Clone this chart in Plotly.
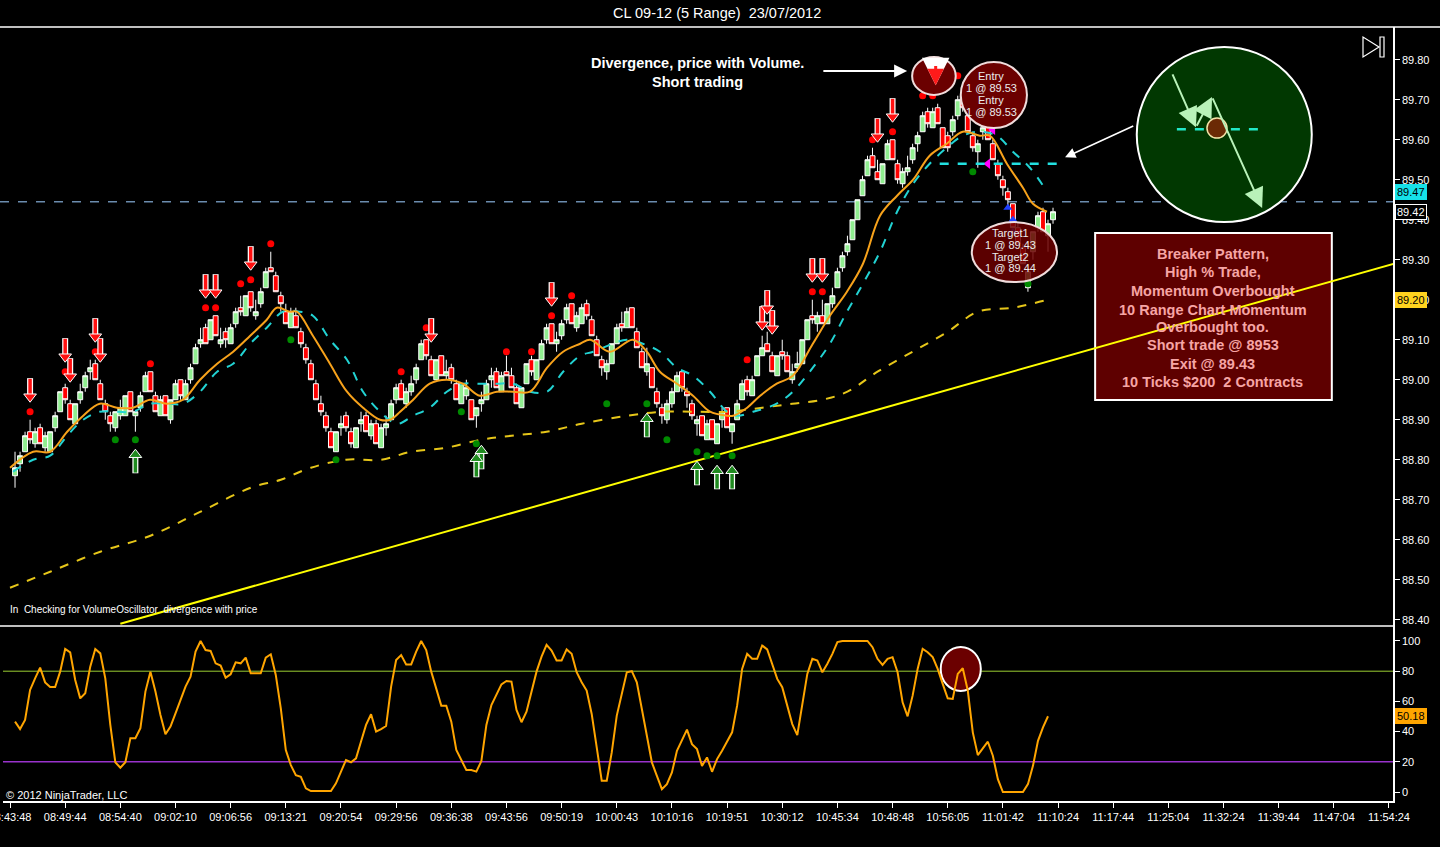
import plotly.graph_objects as go

# ---- time axis labels (one label every 11 range bars) ----
time_labels = ["08:43:48", "08:49:44", "08:54:40", "09:02:10", "09:06:56", "09:13:21",
               "09:20:54", "09:29:56", "09:36:38", "09:43:56", "09:50:19", "10:00:43",
               "10:10:16", "10:19:51", "10:30:12", "10:45:34", "10:48:48", "10:56:05",
               "11:01:42", "11:10:24", "11:17:44", "11:25:04", "11:32:24", "11:39:44",
               "11:47:04", "11:54:24"]
label_bars = [0, 11, 22, 33, 44, 55, 66, 77, 88, 99, 110, 121, 132, 143, 154, 165,
              176, 187, 198, 209, 220, 231, 242, 253, 264, 275]

# ---- CL 09-12, 5 range bars ----
bar_open = [
    88.76, 88.79, 88.82, 88.87, 88.84, 88.88, 88.83, 88.82, 88.88, 88.92,
    88.98, 88.94, 88.89, 88.95, 88.98, 89.02, 89.04, 88.99, 88.94, 88.91,
    88.88, 88.91, 88.91, 88.97, 88.91, 88.93, 88.97, 89.02, 88.96, 88.91,
    88.96, 88.90, 88.95, 89.00, 88.95, 89.00, 89.04, 89.09, 89.13, 89.10,
    89.16, 89.09, 89.12, 89.09, 89.14, 89.18, 89.16, 89.22, 89.16, 89.19,
    89.23, 89.28, 89.26, 89.21, 89.17, 89.13, 89.16, 89.12, 89.08, 89.04,
    88.99, 88.94, 88.91, 88.87, 88.82, 88.88, 88.91, 88.87, 88.83, 88.89,
    88.91, 88.86, 88.89, 88.83, 88.88, 88.90, 88.95, 88.99, 88.94, 88.97,
    89.00, 89.05, 89.10, 89.05, 89.00, 89.06, 89.01, 89.03, 88.99, 88.94,
    88.96, 88.95, 88.91, 88.94, 88.95, 89.00, 89.02, 88.97, 89.02, 89.01,
    88.98, 88.93, 88.99, 89.05, 89.00, 89.05, 89.10, 89.14, 89.09, 89.11,
    89.15, 89.19, 89.13, 89.14, 89.19, 89.15, 89.10, 89.05, 89.02, 89.04,
    89.09, 89.14, 89.13, 89.18, 89.12, 89.07, 89.02, 89.03, 88.97, 88.93,
    88.90, 88.94, 88.97, 89.02, 88.97, 88.94, 88.89, 88.91, 88.85, 88.90,
    88.84, 88.90, 88.93, 88.87, 88.90, 88.95, 89.00, 88.96, 89.01, 89.06,
    89.09, 89.06, 89.01, 89.07, 89.06, 89.00, 89.03, 89.04, 89.10, 89.16,
    89.14, 89.16, 89.14, 89.19, 89.23, 89.28, 89.32, 89.35, 89.40, 89.46,
    89.51, 89.56, 89.52, 89.49, 89.55, 89.60, 89.54, 89.49, 89.52, 89.55,
    89.59, 89.62, 89.67, 89.63, 89.68, 89.63, 89.61, 89.62, 89.66, 89.71,
    89.66, 89.61, 89.57, 89.62, 89.64, 89.59, 89.54, 89.50, 89.47, 89.44,
    89.38, 89.33, 89.23, 89.32, 89.38, 89.42, 89.36, 89.40]
bar_high = [
    88.82, 88.82, 88.87, 88.90, 88.88, 88.89, 88.87, 88.87, 88.92, 88.97,
    88.99, 88.95, 88.94, 88.99, 89.02, 89.05, 89.05, 89.00, 88.95, 88.92,
    88.92, 88.95, 88.96, 88.97, 88.92, 88.97, 89.02, 89.02, 88.97, 88.96,
    88.96, 88.95, 89.00, 89.00, 89.00, 89.04, 89.09, 89.13, 89.14, 89.15,
    89.16, 89.13, 89.13, 89.14, 89.18, 89.21, 89.21, 89.22, 89.20, 89.23,
    89.28, 89.32, 89.27, 89.22, 89.19, 89.18, 89.18, 89.13, 89.09, 89.05,
    89.00, 88.96, 88.92, 88.88, 88.87, 88.91, 88.92, 88.88, 88.88, 88.92,
    88.92, 88.90, 88.90, 88.89, 88.91, 88.95, 88.99, 89.00, 88.98, 89.01,
    89.04, 89.10, 89.10, 89.06, 89.05, 89.06, 89.05, 89.04, 89.00, 88.99,
    89.00, 88.95, 88.93, 88.97, 89.00, 89.03, 89.03, 89.02, 89.06, 89.03,
    88.99, 88.98, 89.04, 89.06, 89.05, 89.10, 89.14, 89.14, 89.12, 89.15,
    89.19, 89.19, 89.17, 89.19, 89.20, 89.16, 89.11, 89.06, 89.05, 89.09,
    89.14, 89.17, 89.18, 89.18, 89.13, 89.08, 89.08, 89.03, 88.98, 88.94,
    88.95, 88.98, 89.02, 89.02, 88.98, 88.95, 88.91, 88.91, 88.90, 88.90,
    88.89, 88.93, 88.93, 88.89, 88.95, 89.00, 89.01, 89.01, 89.06, 89.11,
    89.12, 89.07, 89.06, 89.10, 89.07, 89.04, 89.07, 89.10, 89.15, 89.20,
    89.17, 89.20, 89.19, 89.23, 89.28, 89.32, 89.36, 89.40, 89.45, 89.51,
    89.56, 89.58, 89.55, 89.54, 89.60, 89.60, 89.55, 89.53, 89.56, 89.59,
    89.62, 89.67, 89.68, 89.68, 89.69, 89.63, 89.62, 89.66, 89.71, 89.74,
    89.67, 89.62, 89.60, 89.65, 89.65, 89.60, 89.55, 89.51, 89.48, 89.44,
    89.39, 89.34, 89.28, 89.37, 89.42, 89.43, 89.40, 89.43]
bar_low = [
    88.73, 88.77, 88.82, 88.84, 88.83, 88.84, 88.82, 88.82, 88.87, 88.92,
    88.94, 88.90, 88.89, 88.94, 88.97, 89.00, 89.00, 88.95, 88.90, 88.87,
    88.87, 88.90, 88.91, 88.92, 88.87, 88.92, 88.97, 88.97, 88.92, 88.91,
    88.91, 88.89, 88.95, 88.95, 88.95, 88.99, 89.04, 89.08, 89.09, 89.10,
    89.11, 89.08, 89.08, 89.09, 89.13, 89.16, 89.16, 89.17, 89.15, 89.18,
    89.23, 89.27, 89.22, 89.17, 89.14, 89.13, 89.13, 89.08, 89.04, 89.00,
    88.95, 88.91, 88.87, 88.83, 88.82, 88.86, 88.87, 88.83, 88.83, 88.87,
    88.87, 88.85, 88.84, 88.83, 88.86, 88.90, 88.94, 88.95, 88.93, 88.96,
    88.99, 89.05, 89.05, 89.01, 89.00, 89.01, 89.00, 88.99, 88.95, 88.94,
    88.95, 88.90, 88.88, 88.92, 88.95, 88.98, 88.98, 88.97, 89.01, 88.98,
    88.94, 88.93, 88.99, 89.01, 89.00, 89.05, 89.09, 89.09, 89.07, 89.10,
    89.14, 89.14, 89.12, 89.14, 89.15, 89.11, 89.06, 89.01, 89.00, 89.04,
    89.09, 89.12, 89.13, 89.13, 89.08, 89.03, 89.01, 88.98, 88.93, 88.89,
    88.89, 88.93, 88.97, 88.97, 88.93, 88.90, 88.86, 88.86, 88.85, 88.85,
    88.84, 88.88, 88.88, 88.84, 88.90, 88.95, 88.96, 88.96, 89.01, 89.06,
    89.07, 89.02, 89.01, 89.05, 89.02, 88.99, 89.02, 89.04, 89.10, 89.14,
    89.12, 89.14, 89.14, 89.18, 89.23, 89.27, 89.31, 89.35, 89.40, 89.46,
    89.51, 89.53, 89.50, 89.49, 89.55, 89.55, 89.49, 89.48, 89.51, 89.54,
    89.57, 89.62, 89.63, 89.63, 89.64, 89.58, 89.57, 89.61, 89.65, 89.67,
    89.62, 89.57, 89.53, 89.60, 89.60, 89.55, 89.50, 89.46, 89.43, 89.38,
    89.34, 89.29, 89.22, 89.30, 89.37, 89.37, 89.32, 89.39]
bar_close = [
    88.78, 88.81, 88.86, 88.85, 88.87, 88.84, 88.86, 88.87, 88.91, 88.97,
    88.95, 88.90, 88.94, 88.97, 89.01, 89.03, 89.00, 88.95, 88.92, 88.89,
    88.92, 88.93, 88.96, 88.92, 88.92, 88.96, 89.01, 88.97, 88.92, 88.95,
    88.91, 88.95, 88.99, 88.96, 88.99, 89.03, 89.08, 89.10, 89.09, 89.15,
    89.11, 89.10, 89.10, 89.13, 89.17, 89.17, 89.21, 89.18, 89.17, 89.22,
    89.27, 89.27, 89.22, 89.19, 89.14, 89.17, 89.13, 89.09, 89.05, 89.00,
    88.95, 88.92, 88.88, 88.83, 88.87, 88.89, 88.88, 88.84, 88.88, 88.90,
    88.87, 88.89, 88.84, 88.88, 88.89, 88.94, 88.98, 88.95, 88.97, 88.99,
    89.03, 89.09, 89.06, 89.01, 89.05, 89.01, 89.02, 89.00, 88.95, 88.99,
    88.98, 88.90, 88.93, 88.95, 88.99, 89.01, 88.98, 89.01, 89.01, 88.98,
    88.94, 88.98, 89.04, 89.02, 89.05, 89.09, 89.13, 89.09, 89.10, 89.14,
    89.18, 89.14, 89.16, 89.18, 89.16, 89.11, 89.06, 89.03, 89.04, 89.09,
    89.13, 89.13, 89.17, 89.13, 89.08, 89.03, 89.04, 88.98, 88.94, 88.91,
    88.94, 88.97, 89.01, 88.98, 88.96, 88.91, 88.90, 88.86, 88.89, 88.85,
    88.89, 88.92, 88.88, 88.89, 88.94, 88.99, 88.97, 89.00, 89.06, 89.08,
    89.07, 89.02, 89.06, 89.06, 89.02, 89.02, 89.04, 89.10, 89.15, 89.15,
    89.16, 89.14, 89.19, 89.21, 89.27, 89.31, 89.34, 89.40, 89.45, 89.50,
    89.55, 89.53, 89.50, 89.54, 89.59, 89.55, 89.50, 89.52, 89.53, 89.58,
    89.61, 89.66, 89.64, 89.67, 89.64, 89.58, 89.58, 89.65, 89.70, 89.68,
    89.62, 89.58, 89.59, 89.63, 89.60, 89.55, 89.51, 89.48, 89.45, 89.38,
    89.34, 89.29, 89.27, 89.37, 89.41, 89.37, 89.39, 89.42]
bar_idx = list(range(1, len(bar_close) + 1))

# ---- moving averages (read at sample bars) ----
fast_x = [0, 4.6, 8, 11.4, 14.6, 17.9, 21.3, 24.5, 27.9, 31.3, 34.5, 37.9, 41.3, 44.5, 47.9,
          51.2, 53.2, 55.8, 57.2, 60.4, 63.8, 67.2, 70.4, 73.8, 75.8, 77.8, 80.4, 83.7, 87.1,
          90.3, 93.7, 97.1, 100.3, 103.7, 107.1, 110.3, 113.7, 115.7, 119.6, 124.2, 127,
          129.6, 133, 136.2, 139.6, 143, 144.2, 147, 149.6, 152.9, 156.1, 160.1, 163.5,
          166.9, 170.1, 173.5, 176.9, 180.1, 183.4, 186.8, 190, 193.4, 195.4, 198.8, 202,
          204, 206.8]
fast_y = [88.78, 88.82, 88.82, 88.87, 88.91, 88.94, 88.93, 88.93, 88.95, 88.94, 88.95, 89.00,
          89.04, 89.07, 89.11, 89.15, 89.18, 89.17, 89.17, 89.11, 89.04, 88.97, 88.93, 88.90,
          88.90, 88.92, 88.95, 88.99, 89.00, 88.99, 88.96, 88.97, 88.97, 88.97, 89.03, 89.07,
          89.09, 89.10, 89.07, 89.10, 89.07, 89.02, 88.99, 88.96, 88.92, 88.91, 88.91, 88.93,
          88.96, 88.99, 89.01, 89.09, 89.16, 89.22, 89.29, 89.41, 89.46, 89.50, 89.56, 89.59,
          89.62, 89.61, 89.61, 89.54, 89.48, 89.44, 89.42]
mid_x = [0.6, 4.6, 8, 11.4, 14.6, 17.9, 21.3, 24.5, 27.9, 31.3, 34.5, 37.9, 41.3, 44.5, 47.9,
         51.2, 54.4, 57.8, 60.4, 63.8, 67.2, 70.4, 73.8, 77.2, 80.4, 83.7, 87.1, 90.3, 93.7,
         97.1, 100.3, 103.7, 107.1, 110.3, 113.7, 116.3, 123, 126.2, 129.6, 133, 136.2, 139.6,
         143, 145, 148.2, 152.9, 156.1, 160.1, 163.5, 166.9, 170.1, 173.5, 176.9, 180.1,
         183.4, 186.8, 190, 193.4, 196.8, 200, 203.4, 206.8]
mid_y = [88.77, 88.80, 88.81, 88.86, 88.90, 88.92, 88.92, 88.92, 88.94, 88.94, 88.94, 88.97,
         89.02, 89.04, 89.09, 89.13, 89.17, 89.17, 89.16, 89.10, 89.05, 88.97, 88.92, 88.89,
         88.91, 88.93, 88.97, 88.99, 88.99, 88.99, 88.99, 88.97, 88.97, 89.02, 89.06, 89.07,
         89.10, 89.09, 89.07, 89.03, 89.01, 88.97, 88.92, 88.91, 88.92, 88.94, 88.97, 89.03,
         89.09, 89.17, 89.24, 89.32, 89.42, 89.49, 89.54, 89.58, 89.61, 89.62, 89.61, 89.57,
         89.53, 89.47]
slow_x = [0, 8, 18, 28, 38, 48, 54, 60, 67, 74, 80, 87, 94, 100, 107, 114, 123, 130, 136,
          143, 150, 156, 162, 167, 173, 180, 187, 193, 200, 207]
slow_y = [88.48, 88.52, 88.57, 88.61, 88.67, 88.73, 88.75, 88.78, 88.80, 88.80, 88.82, 88.83,
          88.85, 88.86, 88.87, 88.89, 88.91, 88.92, 88.92, 88.92, 88.93, 88.94, 88.95, 88.97,
          89.02, 89.07, 89.12, 89.17, 89.18, 89.20]
trend_x = [22, 276]
trend_y = [88.39, 89.29]

# ---- signal markers ----
sell_arrow_x = [4, 11, 12, 17, 18, 39, 41, 48, 84, 108, 150, 151, 152, 160, 162, 173, 176]
sell_arrow_y = [88.97, 89.07, 89.02, 89.12, 89.07, 89.23, 89.23, 89.30, 89.12, 89.21, 89.15,
                89.19, 89.14, 89.27, 89.27, 89.62, 89.67]
buy_arrow_x = [25, 93, 94, 127, 137, 141, 144]
buy_arrow_y = [88.80, 88.79, 88.81, 88.89, 88.77, 88.76, 88.76]
red_dot_x = [4, 11, 17, 28, 39, 41, 46, 48, 52, 78, 83, 99, 104, 108, 112, 147, 160, 162,
             172, 176, 182, 184, 189]
red_dot_y = [88.92, 89.02, 89.07, 89.04, 89.18, 89.18, 89.24, 89.25, 89.34, 89.02, 89.13,
             89.07, 89.07, 89.16, 89.21, 89.05, 89.22, 89.22, 89.60, 89.62, 89.71, 89.71, 89.76]
green_dot_x = [21, 25, 56, 65, 90, 93, 119, 127, 131, 137, 139, 141, 144, 192, 203]
green_dot_y = [88.85, 88.85, 89.10, 88.80, 88.92, 88.84, 88.94, 88.94, 88.85, 88.82, 88.81,
               88.81, 88.81, 89.52, 89.24]
entry_mark_x = [196, 195]
entry_mark_y = [89.625, 89.54]
exit_mark_x = [199, 200, 200]
exit_mark_y = [89.43, 89.40, 89.37]

# ---- momentum oscillator ----
osc_vals = [
    46.6, 41.7, 47.7, 67.6, 75.3, 82.4, 72.6, 69.5, 69.5, 79.7,
    94.7, 92.5, 74.2, 62.0, 65.4, 83.0, 94.7, 91.8, 75.3, 44.4,
    19.7, 16.1, 19.7, 35.6, 35.6, 42.2, 66.5, 79.7, 66.5, 51.0,
    38.2, 43.3, 52.1, 61.0, 69.8, 76.4, 93.0, 100.0, 94.0, 93.4,
    85.2, 83.7, 75.7, 78.0, 85.9, 85.2, 89.0, 78.6, 78.6, 78.6,
    89.0, 91.2, 77.5, 55.4, 27.8, 17.8, 11.2, 10.1, 2.4, 0.6,
    0.6, 0.6, 0.6, 0.6, 5.7, 13.5, 21.2, 19.7, 22.3, 33.4,
    44.4, 51.5, 40.0, 41.7, 43.7, 69.8, 87.4, 90.7, 84.5, 84.5,
    93.0, 100.0, 94.0, 79.7, 68.7, 57.2, 57.2, 46.6, 27.8, 21.2,
    14.6, 14.6, 13.5, 20.5, 44.4, 57.6, 64.3, 71.3, 73.5, 73.1,
    54.3, 46.2, 53.2, 66.5, 79.7, 89.6,
    97.5, 93.7, 87.1, 87.1, 94.4, 91.5, 79.3, 72.7, 67.2, 51.7,
    30.7, 7.5, 7.5, 26.2, 50.6, 66.1, 79.3, 80.0, 72.7, 55.0,
    37.3, 19.6, 10.7, 1.9, 5.2, 12.9, 27.3, 33.9, 41.3, 31.7,
    28.4, 17.3, 22.9, 13.4, 21.8, 27.3, 33.3, 39.5, 57.2, 81.5,
    91.5, 88.2, 88.2, 97.0, 94.4, 84.9, 74.9, 69.4, 57.2, 45.0,
    37.7, 57.2, 78.2, 88.2, 87.1, 79.3, 84.9, 91.5, 99.3, 100.0,
    100.0, 100.0, 100.0, 100.0, 100.0, 95.9, 88.2, 84.2, 88.2, 89.3,
    79.3, 59.4, 50.1, 63.8, 81.5, 94.8, 92.6, 89.3, 81.5, 71.6,
    62.1, 61.6, 78.2, 82.0, 67.2, 39.5, 24.4, 28.9, 33.3, 24.0,
    8.5, 0.0, 0.0, 0.0, 0.0, 0.0, 5.2, 17.3, 33.9, 42.8,
    50.18]
osc_idx = list(range(1, len(osc_vals) + 1))
osc_levels = [80, 20]

breaker_text = ["Breaker Pattern,", "High % Trade,", "Momentum Overbought",
                "10 Range Chart Momentum", "Overbought too.", "Short trade @ 8953",
                "Exit @ 89.43", "10 Ticks $200  2 Contracts"]
entry_text = ["Entry", "1 @ 89.53", "Entry", "1 @ 89.53"]
target_text = ["Target1", "1 @ 89.43", "Target2", "1 @ 89.44"]

FONT = "Liberation Sans, Arial, sans-serif"
W, H = 1440, 847
X_DOM = [3 / W, 1393 / W]


def py(px):
    # paper fraction from a pixel row
    return 1 - px / H


fig = go.Figure()

fig.add_trace(go.Candlestick(
    x=bar_idx, open=bar_open, high=bar_high, low=bar_low, close=bar_close,
    increasing=dict(fillcolor="#90ee90", line=dict(color="white", width=1)),
    decreasing=dict(fillcolor="#ff0000", line=dict(color="white", width=1)),
    whiskerwidth=0, hoverinfo="skip", showlegend=False))

fig.add_trace(go.Scatter(x=slow_x, y=slow_y, mode="lines", line=dict(color="#e6c619", width=2, dash="dash", shape="spline"), hoverinfo="skip"))
fig.add_trace(go.Scatter(x=mid_x, y=mid_y, mode="lines", line=dict(color="#22d3d3", width=2, dash="dash", shape="spline"), hoverinfo="skip"))
fig.add_trace(go.Scatter(x=fast_x, y=fast_y, mode="lines", line=dict(color="#f7a21b", width=2, shape="spline"), hoverinfo="skip"))
fig.add_trace(go.Scatter(x=trend_x, y=trend_y, mode="lines", line=dict(color="#ffff00", width=2), hoverinfo="skip"))

fig.add_trace(go.Scatter(x=red_dot_x, y=red_dot_y, mode="markers", marker=dict(color="#ff0000", size=7), hoverinfo="skip"))
fig.add_trace(go.Scatter(x=green_dot_x, y=green_dot_y, mode="markers", marker=dict(color="#008a00", size=7), hoverinfo="skip"))


def add_arrows(xs, ys, color, up):
    s = 1 if up else -1
    head = [y + s * 0.0125 for y in ys]
    stem = [y - s * 0.0094 for y in ys]
    fig.add_trace(go.Scatter(x=xs, y=stem, mode="markers", hoverinfo="skip",
                             marker=dict(symbol="line-ns", size=14, line=dict(width=6, color="white"))))
    fig.add_trace(go.Scatter(x=xs, y=stem, mode="markers", hoverinfo="skip",
                             marker=dict(symbol="line-ns", size=13, line=dict(width=3.5, color=color))))
    fig.add_trace(go.Scatter(x=xs, y=head, mode="markers", hoverinfo="skip",
                             marker=dict(symbol="triangle-up" if up else "triangle-down", size=11,
                                         color=color, line=dict(width=1, color="white"))))


add_arrows(sell_arrow_x, sell_arrow_y, "#ff1010", False)
add_arrows(buy_arrow_x, buy_arrow_y, "#1f8a1f", True)

fig.add_trace(go.Scatter(x=entry_mark_x, y=entry_mark_y, mode="markers", hoverinfo="skip",
                         marker=dict(symbol="triangle-left", size=9, color="#ff00ff")))
fig.add_trace(go.Scatter(x=exit_mark_x, y=exit_mark_y, mode="markers", hoverinfo="skip",
                         marker=dict(symbol="triangle-up", size=8, color="#2040ff")))

# oscillator
fig.add_trace(go.Scatter(x=osc_idx, y=osc_vals, yaxis="y2", mode="lines",
                         line=dict(color="#ffa500", width=2), hoverinfo="skip"))

shapes = []
# boxes and circles behind the price lines
shapes.append(dict(type="circle", xref="x", yref="y", x0=224.7, x1=259.6, y0=89.394, y1=89.832,
                   fillcolor="#013801", line=dict(color="white", width=2), layer="below"))
shapes.append(dict(type="rect", xref="x", yref="y", x0=216.4, x1=263.6, y0=88.949, y1=89.367,
                   fillcolor="#5e0000", line=dict(color="white", width=2), layer="below"))
shapes.append(dict(type="line", xref="paper", yref="y", x0=0, x1=X_DOM[1], y0=89.445, y1=89.445,
                   line=dict(color="#6b8cae", width=1.5, dash="dash"), layer="below"))
shapes.append(dict(type="line", xref="x", yref="y", x0=185.4, x1=209, y0=89.54, y1=89.54,
                   line=dict(color="#22e0e0", width=2.5, dash="dash"), layer="above"))
# inset drawing
shapes.append(dict(type="line", xref="x", yref="y", x0=232.7, x1=249.7, y0=89.626, y1=89.626,
                   line=dict(color="#22e8c8", width=2.5, dash="dash"), layer="above"))
shapes.append(dict(type="circle", xref="x", yref="y", x0=238.7, x1=242.7, y0=89.604, y1=89.654,
                   fillcolor="#6b2a05", line=dict(color="#f3e3a8", width=1.5), layer="above"))
# annotation ovals
shapes.append(dict(type="circle", xref="x", yref="y", x0=179.9, x1=188.6, y0=89.712, y1=89.807,
                   fillcolor="#6b0000", line=dict(color="#f0dcdc", width=2), layer="above"))
shapes.append(dict(type="circle", xref="x", yref="y", x0=189.6, x1=202.8, y0=89.629, y1=89.794,
                   fillcolor="#6b0000", line=dict(color="#f0dcdc", width=2), layer="above"))
shapes.append(dict(type="circle", xref="x", yref="y", x0=191.8, x1=208.8, y0=89.244, y1=89.394,
                   fillcolor="rgba(107,0,0,0.85)", line=dict(color="#f0dcdc", width=2), layer="above"))
# oscillator levels and highlight
for lv, col, wd in zip(osc_levels, ["#9acd32", "#9932cc"], [1, 1.5]):
    shapes.append(dict(type="line", xref="paper", yref="y2", x0=X_DOM[0], x1=X_DOM[1], y0=lv, y1=lv,
                       line=dict(color=col, width=wd), layer="below"))
shapes.append(dict(type="circle", xref="x", yref="y2", x0=185.6, x1=193.6, y0=66.9, y1=96.1,
                   fillcolor="#6b0000", line=dict(color="white", width=2), layer="below"))
# frame lines
shapes.append(dict(type="line", xref="paper", yref="paper", x0=0, x1=1, y0=py(27), y1=py(27),
                   line=dict(color="white", width=1.5)))
shapes.append(dict(type="line", xref="paper", yref="paper", x0=0, x1=X_DOM[1], y0=py(626), y1=py(626),
                   line=dict(color="white", width=1.5)))
# play icon
shapes.append(dict(type="path", xref="paper", yref="paper",
                   path="M %f,%f L %f,%f L %f,%f Z" % (1363 / W, py(37), 1363 / W, py(57), 1379 / W, py(47)),
                   line=dict(color="white", width=1.2)))
shapes.append(dict(type="rect", xref="paper", yref="paper", x0=1380 / W, x1=1384 / W, y0=py(57), y1=py(37),
                   line=dict(color="white", width=1.2)))

ann = []
ann.append(dict(xref="paper", yref="paper", x=717 / W, y=py(13), xanchor="center", yanchor="middle",
                text="CL 09-12 (5 Range)  23/07/2012", showarrow=False, font=dict(size=14.5, color="white")))
ann.append(dict(xref="paper", yref="paper", x=8 / W, y=py(609), xanchor="left", yanchor="middle",
                text="In  Checking for VolumeOscillator  divergence with price",
                showarrow=False, font=dict(size=10, color="white")))
ann.append(dict(xref="paper", yref="paper", x=4 / W, y=py(795), xanchor="left", yanchor="middle",
                text="\u00a9 2012 NinjaTrader, LLC", showarrow=False, font=dict(size=11, color="white")))
ann.append(dict(xref="x", yref="y", x=137, y=89.792, text="<b>Divergence, price with Volume.</b>",
                showarrow=False, font=dict(size=14.5, color="white")))
ann.append(dict(xref="x", yref="y", x=137, y=89.744, text="<b>Short trading</b>",
                showarrow=False, font=dict(size=14.5, color="white")))
# white pointer arrows
ann.append(dict(xref="x", yref="y", axref="x", ayref="y", x=178.9, y=89.772, ax=161.9, ay=89.772,
                text="", showarrow=True, arrowhead=2, arrowsize=1.3, arrowwidth=2, arrowcolor="white"))
ann.append(dict(xref="x", yref="y", axref="x", ayref="y", x=210.4, y=89.556, ax=224.3, ay=89.636,
                text="", showarrow=True, arrowhead=2, arrowsize=1.3, arrowwidth=1.6, arrowcolor="white"))
# red arrow inside the divergence oval (white outline underneath)
for col, wd in [("white", 5), ("#ff1a1a", 3)]:
    ann.append(dict(xref="x", yref="y", axref="x", ayref="y", x=184.6, y=89.736, ax=184.6, ay=89.788,
                    text="", showarrow=True, arrowhead=2, arrowsize=1.1, arrowwidth=wd, arrowcolor=col))
# inset arrows
for (x0, y0, x1, y1) in [(231.7, 89.767, 236.5, 89.631), (236.5, 89.631, 239.7, 89.707),
                         (239.7, 89.707, 249.7, 89.429)]:
    ann.append(dict(xref="x", yref="y", axref="x", ayref="y", x=x1, y=y1, ax=x0, ay=y0, text="",
                    showarrow=True, arrowhead=2, arrowsize=2.0, arrowwidth=2, arrowcolor="#b9f2b9"))
for txt, yv in zip(entry_text, [89.759, 89.729, 89.699, 89.669]):
    ann.append(dict(xref="x", yref="y", x=195.7, y=yv, text=txt, showarrow=False,
                    font=dict(size=11, color="#ececec")))
for txt, yv in zip(target_text, [89.367, 89.337, 89.307, 89.279]):
    ann.append(dict(xref="x", yref="y", x=199.6, y=yv, text=txt, showarrow=False,
                    font=dict(size=11, color="#ececec")))
for txt, yv in zip(breaker_text, [89.314, 89.269, 89.222, 89.174, 89.132, 89.087, 89.039, 88.994]):
    ann.append(dict(xref="x", yref="y", x=239.9, y=yv, text="<b>%s</b>" % txt, showarrow=False,
                    font=dict(size=14.5, color="#f6a5a5")))
# last value tags
tag_x = 1395 / W
for txt, yref, yv, bg, fg in [("89.47", "y", 89.47, "#16e1e8", "black"), ("89.42", "y", 89.42, "black", "white"),
                              ("89.20", "y", 89.20, "#ffd21f", "black"), ("50.18", "y2", 50.18, "#ffa500", "black")]:
    ann.append(dict(xref="paper", yref=yref, x=tag_x, y=yv, xanchor="left", yanchor="middle", text=txt,
                    showarrow=False, bgcolor=bg, bordercolor="white" if bg == "black" else bg,
                    borderwidth=1, borderpad=1, font=dict(size=11, color=fg)))

fig.update_layout(
    width=W, height=H, margin=dict(l=0, r=0, t=0, b=0, autoexpand=False),
    paper_bgcolor="black", plot_bgcolor="black", showlegend=False, hovermode=False,
    boxgap=0.02, boxgroupgap=0, font=dict(family=FONT, color="white", size=11),
    shapes=shapes, annotations=ann,
    xaxis=dict(domain=X_DOM, range=[-1.4, 275.8], anchor="y2", tickvals=label_bars, ticktext=time_labels,
               ticks="outside", ticklen=5, tickcolor="white", showgrid=False, zeroline=False,
               showline=True, linecolor="white", linewidth=1.5, rangeslider=dict(visible=False),
               automargin=False, ticklabeloverflow="allow", tickfont=dict(size=11, color="white")),
    yaxis=dict(domain=[py(626), py(27)], range=[88.3843, 89.8818], side="right", anchor="x",
               tick0=88.4, dtick=0.1, tickformat=".2f", ticks="outside", ticklen=5, tickcolor="white",
               showgrid=False, zeroline=False, showline=True, linecolor="white", linewidth=1.5,
               automargin=False, tickfont=dict(size=11, color="white")),
    yaxis2=dict(domain=[py(801), py(626)], range=[-5.96, 109.93], side="right", anchor="x",
                tickvals=[0, 20, 40, 60, 80, 100], ticks="outside", ticklen=5, tickcolor="white",
                showgrid=False, zeroline=False, showline=True, linecolor="white", linewidth=1.5,
                automargin=False, tickfont=dict(size=11, color="white")),
)

fig.write_html("out.html", config={"displayModeBar": False},
               post_script="document.body.style.margin='0';document.body.style.overflow='hidden';")
